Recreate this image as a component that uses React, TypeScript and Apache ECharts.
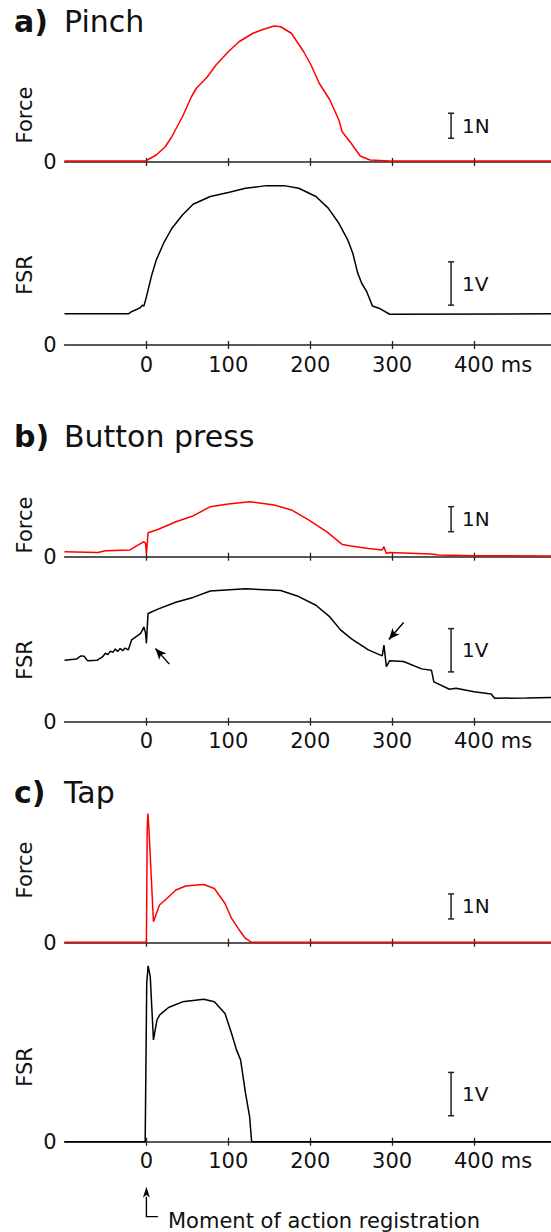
import React, { useEffect, useRef } from "react";
import * as echarts from "echarts";

// ---------- data ----------
const X_MIN = -100;
const X_MAX = 494;
const TICK_VALUES = [0, 100, 200, 300, 400];

const panelLetters = ["a)", "b)", "c)"];
const panelTitles = ["Pinch", "Button press", "Tap"];
const channelNames = ["Force", "FSR"];
const scaleUnits = ["1N", "1V"];

// a) Pinch
const pinchForceT = [-100, -1, 1, 12, 23, 31, 44, 55, 61, 74, 85, 100, 113, 130, 143, 156, 164, 177, 192, 201, 211, 224, 235, 239, 250, 261, 273, 297, 494];
const pinchForceN = [0.04, 0.04, 0.08, 0.28, 0.61, 1.01, 1.81, 2.61, 2.95, 3.39, 3.88, 4.41, 4.81, 5.15, 5.31, 5.44, 5.41, 5.15, 4.41, 3.88, 3.15, 2.48, 1.68, 1.21, 0.75, 0.24, 0.08, 0.04, 0.04];
const pinchFsrT = [-100, -22, -18, -12, -7, -5, -3, 0, 6, 12, 21, 31, 44, 57, 78, 100, 121, 147, 168, 186, 207, 222, 235, 246, 252, 258, 263, 269, 276, 284, 297, 494];
const pinchFsrV = [0.72, 0.72, 0.77, 0.82, 0.87, 0.92, 0.9, 1.11, 1.58, 1.96, 2.35, 2.69, 3.0, 3.25, 3.43, 3.52, 3.62, 3.68, 3.68, 3.62, 3.43, 3.16, 2.81, 2.42, 2.12, 1.66, 1.42, 1.23, 0.9, 0.85, 0.71, 0.72];

// b) Button press
const buttonForceT = [-100, -59, -50, -20, -12, -3, -1, 0, 2, 14, 36, 57, 78, 100, 126, 156, 177, 198, 220, 239, 250, 271, 288, 290, 293, 297, 348, 357, 400, 494];
const buttonForceN = [0.2, 0.17, 0.24, 0.27, 0.43, 0.6, 0.53, 0.1, 0.96, 1.09, 1.4, 1.63, 2.0, 2.11, 2.2, 2.07, 1.87, 1.47, 1.0, 0.49, 0.43, 0.33, 0.27, 0.4, 0.13, 0.17, 0.11, 0.07, 0.04, 0.03];
const buttonFsrT = [-100, -85, -80, -76, -72, -60, -54, -50, -47, -44, -41, -38, -35, -32, -29, -26, -22, -18, -7, -3, -1, 0, 2, 14, 36, 57, 78, 121, 164, 186, 207, 224, 237, 250, 271, 288, 290, 293, 297, 314, 336, 348, 351, 370, 378, 400, 421, 425, 464, 494];
const buttonFsrV = [1.42, 1.45, 1.52, 1.51, 1.41, 1.42, 1.49, 1.58, 1.55, 1.63, 1.6, 1.68, 1.62, 1.69, 1.64, 1.7, 1.66, 1.89, 2.04, 2.19, 2.04, 1.81, 2.5, 2.6, 2.76, 2.87, 3.02, 3.07, 3.03, 2.89, 2.69, 2.42, 2.12, 1.92, 1.66, 1.52, 1.77, 1.27, 1.41, 1.39, 1.22, 1.19, 0.92, 0.75, 0.77, 0.69, 0.64, 0.54, 0.55, 0.56];

// c) Tap
const tapForceT = [-100, -1, 0, 1, 1.8, 3, 8.6, 16, 25, 36, 48, 70, 83, 96, 104, 113, 121, 128, 494];
const tapForceN = [0.02, 0.02, 0.02, 4.6, 5.17, 4.6, 0.84, 1.51, 1.77, 2.11, 2.27, 2.33, 2.17, 1.57, 0.97, 0.53, 0.17, 0.02, 0.02];
const tapFsrT = [-100, -1.5, 0.4, 2.1, 4.7, 8.6, 12.9, 16.3, 27, 44, 70, 83, 96, 104, 110, 115, 121, 126, 128.5, 494];
const tapFsrV = [0, 0, 3.66, 4.06, 3.81, 2.35, 2.81, 2.93, 3.1, 3.23, 3.29, 3.23, 2.96, 2.5, 2.12, 1.89, 1.12, 0.58, 0, 0];

// scale bars: [time, from, to] per subplot
const scaleBars = [
  [372, 0.95, 1.95],
  [372, 0.92, 1.92],
  [372, 1.0, 2.0],
  [372, 1.15, 2.15],
  [372, 0.95, 1.95],
  [372, 0.6, 1.6],
];

// arrows in button-press FSR: [tail, head]
const buttonArrows = [
  [[28, 1.33], [11, 1.69]],
  [[314, 2.29], [296, 1.9]],
];
// action-registration marker under tap FSR: foot end, corner, arrow tip
const registrationPath = [[14, -1.73], [0, -1.73], [0, -1.04]];
const registrationText = "Moment of action registration";

// y-axis maxima per subplot
const yMax = [6, 3.9, 2.6, 3.3, 5.4, 4.3];

// ---------- layout ----------
const FONT = '"DejaVu Sans", Verdana, sans-serif';
const gridTop = [12, 176.1, 491.7, 578.8, 807.7, 955.5];
const gridHeight = [150, 168.9, 65, 142.9, 135, 186.2];
const GRID_LEFT = 64.5;
const titleY = [24.5, 439, 795];
const nameY = [115, 275, 525, 660, 870, 1067];
const LABEL_SIZE = 21;

const zip = (t: number[], v: number[]) => t.map((x, i) => [x, v[i]]);

export default function App() {
  const ref = useRef<HTMLDivElement>(null);
  useEffect(() => {
    const chart = echarts.init(ref.current!, null, { renderer: "svg" });
    const seriesData = [
      zip(pinchForceT, pinchForceN),
      zip(pinchFsrT, pinchFsrV),
      zip(buttonForceT, buttonForceN),
      zip(buttonFsrT, buttonFsrV),
      zip(tapForceT, tapForceN),
      zip(tapFsrT, tapFsrV),
    ];
    const axisColor = "#222";
    const grids: any[] = [];
    const xAxes: any[] = [];
    const yAxes: any[] = [];
    const series: any[] = [];
    for (let i = 0; i < 6; i++) {
      const isFsr = i % 2 === 1;
      grids.push({ left: GRID_LEFT, right: 0, top: gridTop[i], height: gridHeight[i] });
      xAxes.push({
        type: "value",
        gridIndex: i,
        min: X_MIN,
        max: X_MAX,
        position: "bottom",
        axisLine: { show: true, onZero: false, lineStyle: { color: axisColor, width: 1.5 } },
        axisTick: { show: true, inside: false, length: 4, customValues: TICK_VALUES, lineStyle: { color: axisColor, width: 1.3 } },
        axisLabel: {
          show: isFsr,
          customValues: TICK_VALUES,
          margin: 9,
          color: "#111",
          fontSize: LABEL_SIZE,
          fontFamily: FONT,
          formatter: (v: number) => (v === 400 ? "{u|400 ms}" : String(v)),
          rich: { u: { fontSize: LABEL_SIZE, fontFamily: FONT, color: "#111", padding: [0, 0, 0, 38] } },
        },
        splitLine: { show: false },
      });
      xAxes.push({
        type: "value",
        gridIndex: i,
        min: X_MIN,
        max: X_MAX,
        position: "bottom",
        axisLine: { show: false },
        axisTick: { show: true, inside: true, length: 4, customValues: TICK_VALUES, lineStyle: { color: axisColor, width: 1.3 } },
        axisLabel: { show: false },
        splitLine: { show: false },
      });
      yAxes.push({
        type: "value",
        gridIndex: i,
        min: 0,
        max: yMax[i],
        interval: yMax[i],
        axisLine: { show: false },
        axisTick: { show: false },
        splitLine: { show: false },
        axisLabel: {
          margin: 8,
          color: "#111",
          fontSize: LABEL_SIZE,
          fontFamily: FONT,
          formatter: (v: number) => (v === 0 ? "0" : ""),
        },
      });
      const s: any = {
        type: "line",
        xAxisIndex: 2 * i,
        yAxisIndex: i,
        data: seriesData[i],
        showSymbol: false,
        symbol: "none",
        clip: false,
        z: 5,
        lineStyle: { color: isFsr ? "#000" : "#ff0000", width: 1.5 },
      };
      if (i === 3) {
        s.markLine = {
          silent: true,
          animation: false,
          symbol: ["none", "arrow"],
          symbolSize: [7, 11],
          label: { show: false },
          lineStyle: { color: "#000", width: 1.4, type: "solid" },
          data: buttonArrows.map((a) => [{ coord: a[0] }, { coord: a[1] }]),
        };
      }
      series.push(s);
      series.push({
        type: "custom",
        xAxisIndex: 2 * i,
        yAxisIndex: i,
        clip: false,
        silent: true,
        data: [scaleBars[i]],
        renderItem: (_p: any, api: any) => {
          const a = api.coord([api.value(0), api.value(1)]);
          const b = api.coord([api.value(0), api.value(2)]);
          const cap = 3;
          const st = { stroke: "#222", lineWidth: 1.5 };
          return {
            type: "group",
            children: [
              { type: "line", shape: { x1: a[0], y1: a[1], x2: b[0], y2: b[1] }, style: st },
              { type: "line", shape: { x1: a[0] - cap, y1: a[1], x2: a[0] + cap, y2: a[1] }, style: st },
              { type: "line", shape: { x1: b[0] - cap, y1: b[1], x2: b[0] + cap, y2: b[1] }, style: st },
              {
                type: "text",
                x: a[0] + 11,
                y: (a[1] + b[1]) / 2,
                style: {
                  text: scaleUnits[i % 2],
                  fill: "#111",
                  fontSize: 20,
                  fontFamily: FONT,
                  align: "left",
                  verticalAlign: "middle",
                  textAlign: "left",
                  textVerticalAlign: "middle",
                },
              },
            ],
          };
        },
      });
    }

    const graphic: any[] = [];
    for (let p = 0; p < 3; p++) {
      graphic.push({
        type: "text",
        left: 14,
        top: titleY[p] - 18,
        style: { text: panelLetters[p], fill: "#111", fontSize: 30, fontWeight: "bold", fontFamily: FONT },
      });
      graphic.push({
        type: "text",
        left: 64,
        top: titleY[p] - 18,
        style: { text: panelTitles[p], fill: "#111", fontSize: 30, fontFamily: FONT },
      });
    }
    for (let i = 0; i < 6; i++) {
      graphic.push({
        type: "text",
        x: 25,
        y: nameY[i],
        rotation: Math.PI / 2,
        style: {
          text: channelNames[i % 2],
          fill: "#111",
          fontSize: 21,
          fontFamily: FONT,
          textAlign: "center",
          textVerticalAlign: "middle",
          align: "center",
          verticalAlign: "middle",
        },
      });
    }
    graphic.push({
      type: "text",
      x: 168,
      y: 1221,
      style: {
        text: registrationText,
        fill: "#111",
        fontSize: 21,
        fontFamily: FONT,
        textVerticalAlign: "middle",
        verticalAlign: "middle",
      },
    });

    chart.setOption({
      animation: false,
      backgroundColor: "#fff",
      grid: grids,
      xAxis: xAxes,
      yAxis: yAxes,
      series,
      graphic,
    });

    // registration arrow, placed through the tap-FSR axes
    const finder = { xAxisIndex: 10, yAxisIndex: 5 };
    const pts = registrationPath.map((p) => chart.convertToPixel(finder, p) as number[]);
    const tip = pts[2];
    const headLen = 11;
    const headHalf = 3.5;
    graphic.push({
      type: "polyline",
      shape: { points: [pts[0], pts[1], [tip[0], tip[1] + headLen - 1]] },
      style: { stroke: "#000", lineWidth: 1.4, fill: null },
      silent: true,
    });
    graphic.push({
      type: "polygon",
      shape: {
        points: [
          [tip[0], tip[1]],
          [tip[0] - headHalf, tip[1] + headLen],
          [tip[0], tip[1] + headLen - 3],
          [tip[0] + headHalf, tip[1] + headLen],
        ],
      },
      style: { fill: "#000", stroke: null },
      silent: true,
    });
    chart.setOption({ graphic }, { replaceMerge: ["graphic"] });

    return () => chart.dispose();
  }, []);
  return (
    <div
      ref={ref}
      style={{ position: "absolute", left: 0, top: 0, width: 551, height: 1232, background: "#fff" }}
    />
  );
}
